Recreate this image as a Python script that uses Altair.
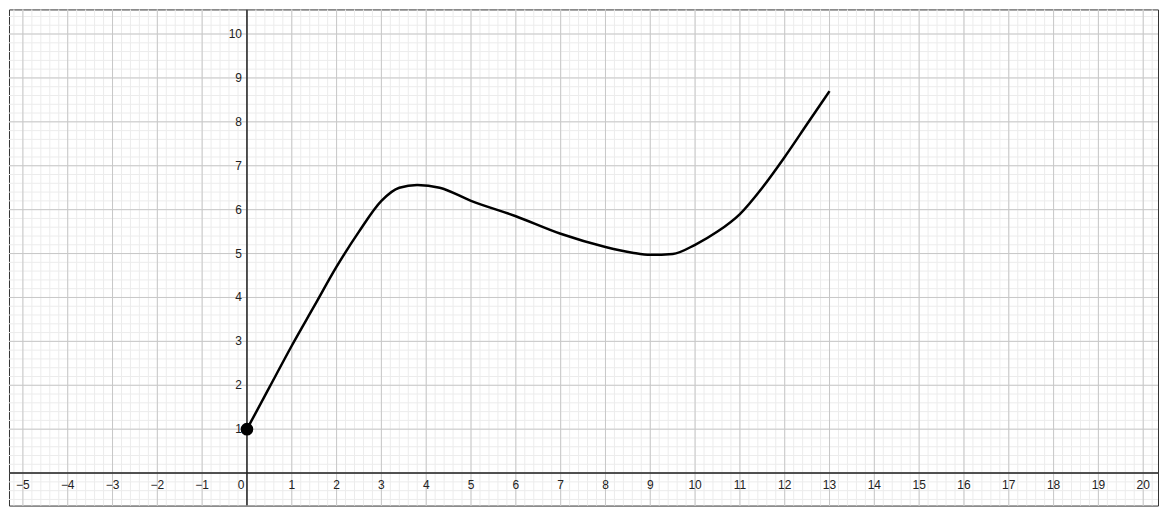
import altair as alt
import pandas as pd

# curve
curve_x = [0, 0.5, 1, 1.5, 2, 2.5, 3, 3.4, 3.8, 4.3, 5, 6, 7, 8, 8.6, 9, 9.5, 10, 10.5, 11, 11.5, 12, 12.5, 13]
curve_y = [1, 1.95, 2.9, 3.8, 4.7, 5.5, 6.2, 6.5, 6.56, 6.5, 6.2, 5.85, 5.45, 5.15, 5.02, 4.97, 4.99, 5.2, 5.5, 5.9, 6.5, 7.2, 7.95, 8.7]

x_ticks = [v for v in range(-5, 21) if v != 0]
y_ticks = list(range(1, 11))
minor_x = [i / 5 for i in range(-26, 102)]
minor_y = [i / 5 for i in range(-3, 53)]

xd = [-5.31, 20.33]
yd = [-0.74, 10.56]
xs = alt.Scale(domain=xd, nice=False, zero=False)
ys = alt.Scale(domain=yd, nice=False, zero=False)
X = lambda f: alt.X(f, scale=xs, axis=None)
Y = lambda f: alt.Y(f, scale=ys, axis=None)

def vrules(vals, color, w):
    return alt.Chart(pd.DataFrame({'v': vals})).mark_rule(color=color, strokeWidth=w).encode(
        x=X('v:Q'), y=alt.value(0), y2=alt.value(497))

def hrules(vals, color, w):
    return alt.Chart(pd.DataFrame({'v': vals})).mark_rule(color=color, strokeWidth=w).encode(
        y=Y('v:Q'), x=alt.value(0), x2=alt.value(1151))

grid = (vrules(minor_x, '#ececec', 1) + hrules(minor_y, '#ececec', 1)
        + vrules(list(range(-5, 21)), '#c8c8c8', 1) + hrules(list(range(0, 11)), '#c8c8c8', 1)
        + vrules([0], '#222', 1.5) + hrules([0], '#222', 1.5))

def lab(v):
    return ('\u2212' + str(-v)) if v < 0 else str(v)

xl = alt.Chart(pd.DataFrame({'x': x_ticks, 't': [lab(v) for v in x_ticks], 'y': [0] * len(x_ticks)})).mark_text(
    font='Liberation Sans', fontSize=12, color='#222', dy=12).encode(x=X('x:Q'), y=Y('y:Q'), text='t:N')
xl0 = alt.Chart(pd.DataFrame({'x': [0], 'y': [0], 't': ['0']})).mark_text(
    font='Liberation Sans', fontSize=12, color='#222', dy=12, dx=-6).encode(x=X('x:Q'), y=Y('y:Q'), text='t:N')
yl = alt.Chart(pd.DataFrame({'y': y_ticks, 't': [str(v) for v in y_ticks], 'x': [0] * len(y_ticks)})).mark_text(
    font='Liberation Sans', fontSize=12, color='#222', align='right', dx=-5).encode(x=X('x:Q'), y=Y('y:Q'), text='t:N')

line = alt.Chart(pd.DataFrame({'x': curve_x, 'y': curve_y})).mark_line(
    color='black', strokeWidth=2.5, interpolate='monotone').encode(x=X('x:Q'), y=Y('y:Q'), order='x:Q')
dot = alt.Chart(pd.DataFrame({'x': [0], 'y': [1]})).mark_circle(color='black', size=160, opacity=1).encode(
    x=X('x:Q'), y=Y('y:Q'))

chart = (grid + xl + xl0 + yl + line + dot).properties(
    width=1151, height=497, padding=0
).configure_view(stroke='#333', strokeWidth=1, fill='white')

chart.save("out.html", embed_options={"renderer": "svg", "actions": False})
